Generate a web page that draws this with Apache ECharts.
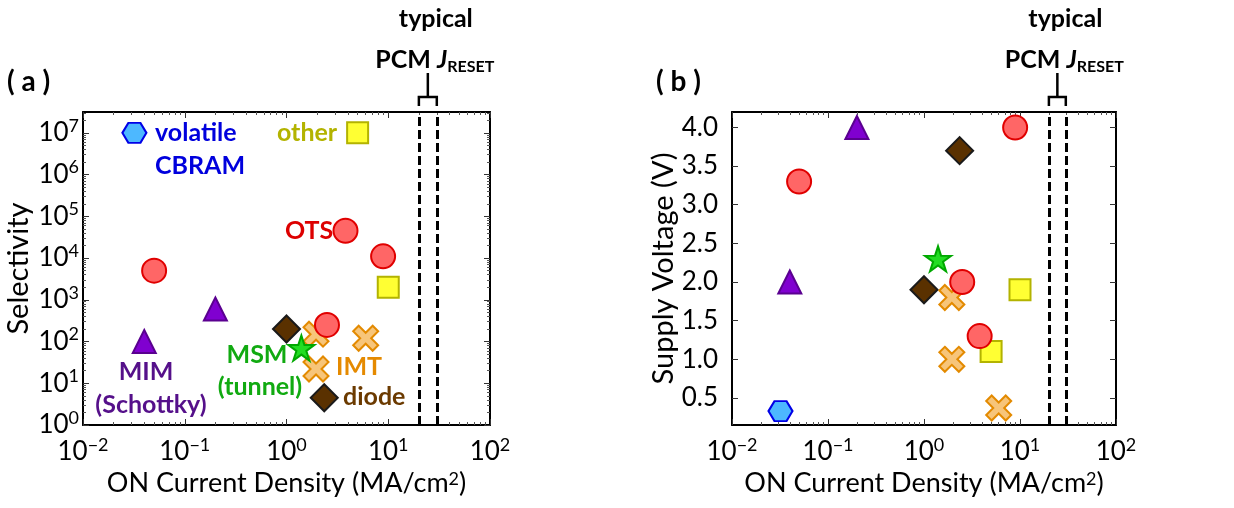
<!DOCTYPE html>
<html>
<head>
<meta charset="utf-8">
<script src="https://cdn.jsdelivr.net/npm/echarts@6/dist/echarts.min.js"></script>
<style>
  html, body { margin: 0; padding: 0; background: #fff; }
  #chart { width: 1234px; height: 508px; }
</style>
</head>
<body>
<div id="chart"></div>
<script>
// ON current density (MA/cm2), selectivity and supply voltage (V) per selector type
const otsJ = [0.05, 8.9, 2.5, 3.8];
const otsSel = [5000, 11000, 250, 45000];
const otsV = [3.3, 4.0, 2.0, 1.3];

const mimJ = [0.04, 0.2];
const mimSel = [100, 600];
const mimV = [2.0, 4.0];

const msmJ = [1.4];
const msmSel = [70];
const msmV = [2.3];

const diodeJ = [1.0, 2.35];
const diodeSel = [200, 4.5];
const diodeV = [1.9, 3.7];

const imtJ = [1.95, 1.95, 6.0];
const imtSel = [150, 22, 120];
const imtV = [1.8, 1.0, 0.37];

const otherJ = [10, 5];
const otherSel = [2000, 1e7];
const otherV = [1.9, 1.1];

const cbramJ = [0.032];
const cbramSel = [1e7];
const cbramV = [0.33];

// typical PCM J_RESET band
const pcmReset = [20, 30];

// axis ticks
const xMajor = [0.01, 0.1, 1, 10, 100];
const xDecades = [0.01, 0.1, 1, 10];
const selMajor = [1, 10, 100, 1e3, 1e4, 1e5, 1e6, 1e7];
const selDecades = [1, 10, 100, 1e3, 1e4, 1e5, 1e6, 1e7];
const minorSteps = [2, 3, 4, 5, 6, 7, 8, 9];
const vMajor = [0.5, 1.0, 1.5, 2.0, 2.5, 3.0, 3.5, 4.0];

const FONT = 'Lato';

function minorTicks(decades, max) {
    const out = [];
    decades.forEach(d => minorSteps.forEach(s => { if (d * s < max) out.push(d * s); }));
    return out;
}
const xMinor = minorTicks(xDecades, 100);
const selMinor = minorTicks(selDecades, Math.pow(10, 7.5));

function pow10Label(v) {
    const e = Math.round(Math.log10(v));
    return '{b|10}{s|' + String(e).replace('-', '\u2212') + '}';
}
const powRich = {
    b: { fontSize: 26, fontFamily: FONT, color: '#000', lineHeight: 32 },
    s: { fontSize: 18, fontFamily: FONT, color: '#000', verticalAlign: 'top' }
};

function pts(xs, ys) { return xs.map((x, i) => [x, ys[i]]); }

const hexPath = 'path://M25 0 L75 0 L100 50 L75 100 L25 100 L0 50 Z';
const crossPath = 'path://M22 0 L50 28 L78 0 L100 22 L72 50 L100 78 L78 100 L50 72 L22 100 L0 78 L28 50 L0 22 Z';
const starPath = 'path://M50 0 L61.23 34.55 L97.55 34.55 L68.17 55.9 L79.39 90.45 L50 69.1 L20.61 90.45 L31.83 55.9 L2.45 34.55 L38.77 34.55 Z';

const styles = {
    other: { symbol: 'rect', size: 21, fill: '#ffff33', border: '#b3b300' },
    diode: { symbol: 'diamond', size: 27, fill: '#5a3100', border: '#1a1a1a' },
    imt: { symbol: crossPath, size: 25, fill: '#f7c57a', border: '#e38a00' },
    msm: { symbol: starPath, size: [26, 25], fill: '#22dd22', border: '#00a800' },
    ots: { symbol: 'circle', size: 24, fill: '#ff6666', border: '#e00000' },
    mim: { symbol: 'triangle', size: [23, 23], fill: '#8000d0', border: '#5a0090' },
    cbram: { symbol: hexPath, size: [24, 20], fill: '#4db8ff', border: '#0000e6' }
};

function scatter(name, data, xi, yi) {
    const st = styles[name];
    return {
        type: 'scatter', name: name, xAxisIndex: xi, yAxisIndex: yi, data: data,
        symbol: st.symbol, symbolSize: st.size,
        itemStyle: { color: st.fill, borderColor: st.border, borderWidth: 2, opacity: 1 },
        silent: true, z: 3
    };
}

function xAxes(gi) {
    const base = {
        type: 'log', logBase: 10, min: 0.01, max: 100, gridIndex: gi,
        splitLine: { show: false }
    };
    return [
        Object.assign({}, base, {
            position: 'bottom',
            name: 'ON Current Density (MA/cm{s|2})', nameLocation: 'middle', nameGap: 41,
            nameTextStyle: { fontSize: 27, fontFamily: FONT, color: '#000',
                rich: { s: { fontSize: 18, fontFamily: FONT, verticalAlign: 'top' } } },
            axisLine: { show: true, lineStyle: { color: '#000', width: 2 } },
            axisTick: { show: true, inside: true, length: 6, customValues: xMajor, lineStyle: { color: '#333', width: 1 } },
            axisLabel: { show: true, customValues: xMajor, formatter: pow10Label, rich: powRich, margin: 11 }
        }),
        Object.assign({}, base, {
            position: 'top',
            axisLine: { show: true, lineStyle: { color: '#000', width: 2 } },
            axisTick: { show: true, inside: true, length: 6, customValues: xMajor, lineStyle: { color: '#333', width: 1 } },
            axisLabel: { show: false }
        }),
        Object.assign({}, base, {
            position: 'bottom', axisLine: { show: false },
            axisTick: { show: true, inside: true, length: 3, customValues: xMinor, lineStyle: { color: '#555', width: 1 } },
            axisLabel: { show: false }
        }),
        Object.assign({}, base, {
            position: 'top', axisLine: { show: false },
            axisTick: { show: true, inside: true, length: 3, customValues: xMinor, lineStyle: { color: '#555', width: 1 } },
            axisLabel: { show: false }
        })
    ];
}

const selBase = { type: 'log', logBase: 10, min: 1, max: Math.pow(10, 7.5), gridIndex: 0, splitLine: { show: false } };
const vBase = { type: 'value', min: 0.15, max: 4.2, gridIndex: 1, splitLine: { show: false } };

const yAxis = [
    Object.assign({}, selBase, {
        position: 'left',
        name: 'Selectivity', nameLocation: 'middle', nameGap: 50,
        nameTextStyle: { fontSize: 29, fontFamily: FONT, color: '#000' },
        axisLine: { show: true, lineStyle: { color: '#000', width: 2 } },
        axisTick: { show: true, inside: true, length: 6, customValues: selMajor, lineStyle: { color: '#333', width: 1 } },
        axisLabel: { show: true, customValues: selMajor, formatter: pow10Label, rich: powRich, margin: 4 }
    }),
    Object.assign({}, selBase, {
        position: 'right',
        axisLine: { show: true, lineStyle: { color: '#000', width: 2 } },
        axisTick: { show: true, inside: true, length: 6, customValues: selMajor, lineStyle: { color: '#333', width: 1 } },
        axisLabel: { show: false }
    }),
    Object.assign({}, selBase, {
        position: 'left', axisLine: { show: false },
        axisTick: { show: true, inside: true, length: 3, customValues: selMinor, lineStyle: { color: '#555', width: 1 } },
        axisLabel: { show: false }
    }),
    Object.assign({}, selBase, {
        position: 'right', axisLine: { show: false },
        axisTick: { show: true, inside: true, length: 3, customValues: selMinor, lineStyle: { color: '#555', width: 1 } },
        axisLabel: { show: false }
    }),
    Object.assign({}, vBase, {
        position: 'left',
        name: 'Supply Voltage (V)', nameLocation: 'middle', nameGap: 40,
        nameTextStyle: { fontSize: 29, fontFamily: FONT, color: '#000' },
        axisLine: { show: true, lineStyle: { color: '#000', width: 2 } },
        axisTick: { show: true, inside: true, length: 6, customValues: vMajor, lineStyle: { color: '#333', width: 1 } },
        axisLabel: { show: true, customValues: vMajor, formatter: v => v.toFixed(1),
            fontSize: 26, fontFamily: FONT, color: '#000', margin: 14 }
    }),
    Object.assign({}, vBase, {
        position: 'right',
        axisLine: { show: true, lineStyle: { color: '#000', width: 2 } },
        axisTick: { show: true, inside: true, length: 6, customValues: vMajor, lineStyle: { color: '#333', width: 1 } },
        axisLabel: { show: false }
    })
];

const resetLines = {
    silent: true, symbol: 'none', animation: false,
    label: { show: false },
    lineStyle: { color: '#000', width: 3, type: [9, 4] },
    data: pcmReset.map(v => ({ xAxis: v }))
};

function panelSeries(xi, yi, ys) {
    const list = [
        scatter('other', pts(otherJ, ys.other), xi, yi),
        scatter('diode', pts(diodeJ, ys.diode), xi, yi),
        scatter('imt', pts(imtJ, ys.imt), xi, yi),
        scatter('msm', pts(msmJ, ys.msm), xi, yi),
        scatter('ots', pts(otsJ, ys.ots), xi, yi),
        scatter('mim', pts(mimJ, ys.mim), xi, yi),
        scatter('cbram', pts(cbramJ, ys.cbram), xi, yi)
    ];
    list[0].markLine = resetLines;
    return list;
}

const series = [].concat(
    panelSeries(0, 0, { other: otherSel, diode: diodeSel, imt: imtSel, msm: msmSel, ots: otsSel, mim: mimSel, cbram: cbramSel }),
    panelSeries(4, 4, { other: otherV, diode: diodeV, imt: imtV, msm: msmV, ots: otsV, mim: mimV, cbram: cbramV })
);

function txt(text, x, y, color, align, size) {
    return {
        type: 'text', silent: true, z: 10,
        style: { text: text, x: x, y: y, fill: color, font: 'bold ' + (size || 25) + 'px ' + FONT,
                 textAlign: align || 'left', textVerticalAlign: 'middle' }
    };
}

const chart = echarts.init(document.getElementById('chart'), null, { renderer: 'canvas' });
chart.setOption({
    animation: false,
    backgroundColor: '#fff',
    textStyle: { fontFamily: FONT },
    grid: [
        { left: 83, top: 112, width: 407, height: 313, containLabel: false, outerBoundsMode: 'none' },
        { left: 732, top: 112, width: 384, height: 313, containLabel: false, outerBoundsMode: 'none' }
    ],
    xAxis: xAxes(0).concat(xAxes(1)),
    yAxis: yAxis,
    series: series
});

// annotations: labels, panel tags and the J_RESET bracket
function bracket(xi) {
    const x1 = chart.convertToPixel({ xAxisIndex: xi }, pcmReset[0]);
    const x2 = chart.convertToPixel({ xAxisIndex: xi }, pcmReset[1]);
    const xc = (x1 + x2) / 2;
    return [
        { type: 'polyline', silent: true, shape: { points: [[x1, 106], [x1, 97], [x2, 97], [x2, 106]] },
          style: { stroke: '#000', lineWidth: 2.5, fill: null } },
        { type: 'line', silent: true, shape: { x1: xc, y1: 97, x2: xc, y2: 73 },
          style: { stroke: '#000', lineWidth: 2.5 } },
        txt('typical', xc + 8, 19, '#000', 'center', 25),
        {
            type: 'text', silent: true,
            style: {
                text: '{n|PCM }{j|J}{sub|RESET}', x: xc + 7, y: 60, textAlign: 'center', textVerticalAlign: 'middle',
                rich: {
                    n: { font: 'bold 25px ' + FONT, fill: '#000', lineHeight: 30 },
                    j: { font: 'italic bold 25px ' + FONT, fill: '#000', lineHeight: 30 },
                    sub: { font: 'bold 16px ' + FONT, fill: '#000', verticalAlign: 'bottom', lineHeight: 22 }
                }
            }
        }
    ];
}

chart.setOption({
    graphic: [
        txt('( a )', 7, 82, '#000', 'left', 28),
        txt('( b )', 656, 82, '#000', 'left', 28),
        txt('volatile', 155, 133, '#0000dd'),
        txt('CBRAM', 155, 166, '#0000dd'),
        txt('other', 277, 133, '#b3b300'),
        txt('OTS', 285, 231, '#dd0000'),
        txt('MIM', 146, 372, '#55108a', 'center'),
        txt('(Schottky)', 151, 405, '#55108a', 'center'),
        txt('MSM', 257, 355, '#11aa11', 'center'),
        txt('(tunnel)', 260, 387, '#11aa11', 'center'),
        txt('IMT', 336, 367, '#e58a00'),
        txt('diode', 343, 397, '#6b3a00')
    ].concat(bracket(0), bracket(4))
});
</script>
</body>
</html>
